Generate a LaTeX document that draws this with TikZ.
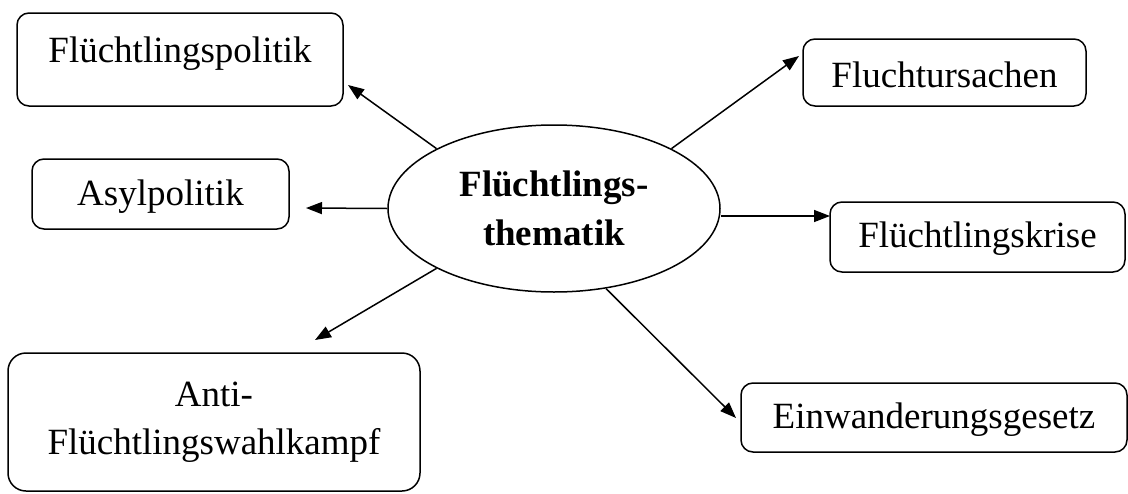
\documentclass[tikz,border=0pt]{standalone}
\usepackage{fontspec}
\setmainfont{Liberation Serif}
\usetikzlibrary{arrows.meta,shapes.geometric}
\begin{document}
\begin{tikzpicture}[x=1pt,y=-1pt,
  box/.style={draw, line width=1.5pt, rounded corners=12pt, inner sep=0pt, anchor=base, font=\fontsize{37}{48}\selectfont},
  arr/.style={line width=1.5pt, -{Triangle[length=16pt,width=12pt]}}]
\useasboundingbox (0,0) rectangle (1128,493);
% centre
\node[ellipse, draw, line width=1.5pt, minimum width=332pt, minimum height=167pt, inner sep=0pt, align=center, font=\fontsize{37}{49}\selectfont\bfseries] (th) at (554,208.5) {Flüchtlings-\\thematik};
% boxes
\node[box, minimum width=326pt, text height=49pt, text depth=44pt] (pol) at (180,62) {Flüchtlingspolitik};
\node[box, minimum width=257pt, text height=46pt, text depth=24pt] (asyl) at (160.5,205) {Asylpolitik};
\node[box, anchor=center, align=center, rounded corners=18pt, minimum width=412pt, minimum height=138pt] (anti) at (214,422) {Anti-\\Flüchtlingswahlkampf};
\node[box, minimum width=283pt, text height=48pt, text depth=19pt] (ursa) at (944.5,87) {Fluchtursachen};
\node[box, minimum width=295pt, text height=45pt, text depth=25pt] (krise) at (977.5,247) {Flüchtlingskrise};
\node[box, minimum width=386pt, text height=45pt, text depth=24pt] (einw) at (934,428) {Einwanderungsgesetz};
% arrow tips
\coordinate (tPol) at (348,85);
\coordinate (tAsyl) at (306,208);
\coordinate (tAnti) at (315,340);
\coordinate (tUrsa) at (799,56);
\coordinate (tKrise) at (830,216);
\coordinate (tEinw) at (736,418);
% connectors
\draw[arr] (th.153) -- (tPol);
\draw[arr] (th.180) -- (tAsyl);
\draw[arr] (th.207) -- (tAnti);
\draw[arr] (th.27) -- (tUrsa);
\draw[arr] (tKrise -| th.east) -- (tKrise);
\draw[arr] (th.-57.3) -- (tEinw);
\end{tikzpicture}
\end{document}
